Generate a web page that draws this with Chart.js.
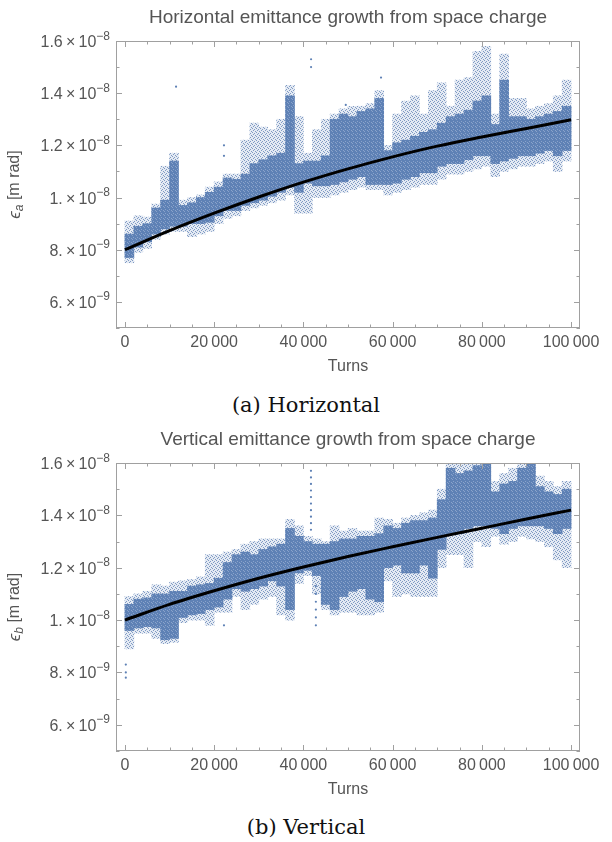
<!DOCTYPE html>
<html>
<head>
<meta charset="utf-8">
<script src="https://cdn.jsdelivr.net/npm/chart.js@4.4.1/dist/chart.umd.min.js"></script>
<style>
	body { margin: 0; background: #fff; width: 612px; height: 842px; position: relative; overflow: hidden; }
	.box { position: absolute; left: 0; width: 612px; height: 385px; }
	.caption { position: absolute; left: 0; width: 612px; text-align: center; line-height: 26px;
		font-family: "DejaVu Serif", "Liberation Serif", serif; font-size: 21px; color: #111; }
</style>
</head>
<body>
<div class="box" style="top:0"><canvas id="horiz"></canvas></div>
<div class="caption" style="top:392px">(a) Horizontal</div>
<div class="box" style="top:420px"><canvas id="vert"></canvas></div>
<div class="caption" style="top:814px">(b) Vertical</div>
<script>
// emittance values are in units of 1e-9 m rad, binned every 2000 turns
var binTurns = [1000,3000,5000,7000,9000,11000,13000,15000,17000,19000,21000,23000,25000,27000,29000,31000,33000,35000,37000,39000,41000,43000,45000,47000,49000,51000,53000,55000,57000,59000,61000,63000,65000,67000,69000,71000,73000,75000,77000,79000,81000,83000,85000,87000,89000,91000,93000,95000,97000,99000];

var hCoreLo = [7.7,8.1,8.3,8.6,8.8,8.9,8.9,9.0,9.0,9.05,9.3,9.5,9.5,9.7,9.8,9.9,10.05,10.2,10.4,10.2,10.55,10.45,10.45,10.5,10.6,10.7,10.8,10.5,10.5,10.5,10.55,10.7,10.8,10.95,10.95,11.2,11.3,11.3,11.45,11.6,11.6,11.3,11.4,11.5,11.6,11.6,11.7,11.8,11.6,11.8];
var hCoreHi = [8.6,8.9,9.0,9.6,9.9,11.4,9.7,9.8,10.0,10.2,10.4,10.75,10.7,10.9,11.3,11.45,11.6,11.7,13.9,11.3,11.4,11.4,11.6,13.0,13.2,13.1,13.3,13.4,13.8,11.8,12.1,12.2,12.35,12.5,12.6,12.85,13.1,13.2,13.35,13.7,13.9,12.8,14.5,13.1,13.1,13.0,13.1,13.2,13.3,13.5];
var hOuterLo = [7.5,7.9,8.05,8.4,8.6,8.7,8.7,8.5,8.6,8.7,9.0,9.2,9.3,9.5,9.6,9.7,9.8,9.9,10.1,9.4,9.4,10.0,10.0,10.1,10.2,10.3,10.4,10.3,10.3,10.1,10.2,10.3,10.4,10.5,10.5,10.7,10.9,10.9,11.0,11.1,11.2,10.8,11.0,11.1,11.2,11.2,11.3,11.4,11.0,11.4];
var hOuterHi = [9.1,9.3,9.25,9.75,11.2,11.7,9.9,10.0,10.1,10.4,10.6,10.9,10.9,12.2,12.85,12.7,12.6,13.0,14.3,13.1,11.7,12.6,13.0,13.2,13.4,13.5,13.5,13.6,14.1,12.0,13.2,13.7,13.9,13.2,14.1,14.4,13.5,14.5,14.6,15.6,15.8,13.2,15.5,13.8,13.8,13.4,13.5,13.6,13.9,14.5];
var hOutX = [11460,22200,22200,41720,41720,49500,57400];
var hOutY = [14.25,12.0,11.6,15.3,15.0,13.55,14.6];

var vCoreLo = [9.6,9.7,9.75,9.7,9.25,9.3,10.1,10.2,10.25,10.4,10.5,10.8,11.2,11.1,11.2,11.3,11.5,11.3,10.4,11.8,11.9,11.7,10.6,10.4,10.9,11.1,11.2,10.8,10.7,12.0,12.1,11.8,11.8,12.1,11.6,12.7,13.3,13.3,13.5,13.6,13.6,13.5,13.3,13.5,13.6,13.6,13.6,13.5,13.3,13.5];
var vCoreHi = [10.6,10.8,10.85,11.0,11.0,11.1,11.1,11.3,11.35,11.4,11.6,12.2,12.5,12.6,12.5,12.7,12.8,12.9,13.5,13.2,13.0,12.9,12.9,13.0,13.1,13.1,13.2,13.2,13.3,13.6,13.5,13.7,13.8,13.8,13.9,14.6,15.8,15.6,15.7,15.9,16.0,14.9,15.2,15.3,15.8,16.0,15.1,14.9,14.8,15.0];
var vOuterLo = [8.9,9.5,9.5,9.3,9.1,9.15,9.9,10.0,10.0,9.8,10.3,10.3,10.9,10.4,10.6,10.8,10.9,10.2,10.0,11.4,11.7,11.0,10.4,10.2,10.3,10.3,10.2,10.2,10.3,11.5,10.9,11.0,10.9,10.9,10.9,12.0,12.5,12.5,12.0,13.0,12.8,13.2,12.9,13.0,13.2,13.1,13.0,12.8,12.3,12.0];
var vOuterHi = [10.9,11.0,11.1,11.35,11.3,11.45,11.5,11.55,11.65,12.5,12.5,12.6,12.7,12.9,13.0,13.1,13.1,13.1,13.85,13.6,13.2,13.1,13.0,13.6,13.4,13.5,13.4,13.4,13.9,13.85,13.7,13.9,14.0,14.1,14.2,15.0,16.0,16.0,16.0,16.0,16.0,15.3,15.6,15.8,16.0,16.0,15.5,15.3,15.1,15.3];
var vOutX = [200,200,200,22200,41700,41700,41700,41700,41700,41700,41700,41700,41700,41700,42800,42800,42800,42800,42800,42800];
var vOutY = [8.3,8.0,7.8,9.8,15.7,15.45,15.2,14.95,14.7,14.45,14.2,13.95,13.7,13.45,11.3,11.0,10.7,10.4,10.1,9.8];

// fitted growth curves
var fitTurns = [0,10000,20000,30000,40000,50000,60000,70000,80000,90000,100000];
var hFit = [8.0,8.73,9.40,10.02,10.59,11.10,11.56,11.97,12.32,12.65,12.98];
var vFit = [10.0,10.6,11.12,11.60,12.03,12.43,12.80,13.16,13.51,13.86,14.2];

// axis ticks
var xTicksAll = [0,5000,10000,15000,20000,25000,30000,35000,40000,45000,50000,55000,60000,65000,70000,75000,80000,85000,90000,95000,100000];
var xMajor = [0,20000,40000,60000,80000,100000];
var xLabels = ['0','20\u2009000','40\u2009000','60\u2009000','80\u2009000','100\u2009000'];
var yTicksAll = [5,6,7,8,9,10,11,12,13,14,15,16];
var yMajor = [6,8,10,12,14,16];
var yMant = ['6.','8.','1.','1.2','1.4','1.6'];
var yExp = ['\u22129','\u22129','\u22128','\u22128','\u22128','\u22128'];

var FONT = '"Liberation Sans", Arial, sans-serif';
var BLUE = '#5e81b5';
var FRAME = '#a0a0a0';
var TEXT = '#555555';

// speckle fills so the bands read like dense point clouds
function speckle(bg, fg, cells) {
	var c = document.createElement('canvas');
	c.width = 4; c.height = 4;
	var g = c.getContext('2d');
	g.fillStyle = bg;
	g.fillRect(0, 0, 4, 4);
	g.fillStyle = fg;
	cells.forEach(function(p) { g.fillRect(p[0], p[1], 1, 1); });
	return g.createPattern(c, 'repeat');
}
var coreFill = speckle(BLUE, '#8aa3cb', [[1, 1], [3, 2], [0, 3]]);
var outerFill = speckle('#e4eaf3', '#7f9ac4', [[0, 0], [2, 1], [1, 2], [3, 3]]);

var decoPlugin = {
	id: 'deco',
	afterDatasetsDraw: function(chart, args, opts) {
		var ctx = chart.ctx, a = chart.chartArea;
		var xs = chart.scales.x, ys = chart.scales.y;
		var midX = (a.left + a.right) / 2, midY = (a.top + a.bottom) / 2;
		ctx.save();
		ctx.strokeStyle = FRAME;
		ctx.lineWidth = 1;
		ctx.strokeRect(a.left + 0.5, a.top + 0.5, a.right - a.left - 1, a.bottom - a.top - 1);

		ctx.beginPath();
		xTicksAll.forEach(function(v) {
			var px = Math.round(xs.getPixelForValue(v)) + 0.5;
			var len = xMajor.indexOf(v) >= 0 ? 6 : 3.5;
			ctx.moveTo(px, a.bottom); ctx.lineTo(px, a.bottom - len);
			ctx.moveTo(px, a.top); ctx.lineTo(px, a.top + len);
		});
		yTicksAll.forEach(function(v) {
			var py = Math.round(ys.getPixelForValue(v)) + 0.5;
			var len = yMajor.indexOf(v) >= 0 ? 6 : 3.5;
			ctx.moveTo(a.left, py); ctx.lineTo(a.left + len, py);
			ctx.moveTo(a.right, py); ctx.lineTo(a.right - len, py);
		});
		ctx.stroke();

		ctx.fillStyle = TEXT;
		// x tick labels
		ctx.font = '16px ' + FONT;
		ctx.textAlign = 'center';
		ctx.textBaseline = 'middle';
		xMajor.forEach(function(v, i) {
			ctx.fillText(xLabels[i], xs.getPixelForValue(v), a.bottom + 14.5);
		});
		ctx.fillText('Turns', midX, a.bottom + 39);

		// y tick labels, mantissa x 10 with raised exponent
		ctx.textAlign = 'left';
		ctx.textBaseline = 'alphabetic';
		yMajor.forEach(function(v, i) {
			var ty = ys.getPixelForValue(v);
			var base = yMant[i] + '\u2009\u00d7\u200910';
			ctx.font = '12px ' + FONT;
			var we = ctx.measureText(yExp[i]).width;
			ctx.font = '16px ' + FONT;
			var wb = ctx.measureText(base).width;
			var x0 = a.left - 6 - we - wb;
			ctx.fillText(base, x0, ty + 6);
			ctx.font = '12px ' + FONT;
			ctx.fillText(yExp[i], x0 + wb, ty - 1.5);
		});

		// title
		ctx.font = '19px ' + FONT;
		ctx.textAlign = 'center';
		ctx.textBaseline = 'middle';
		ctx.fillText(opts.title, midX, a.top - 23);

		// rotated y axis label
		ctx.translate(15, midY);
		ctx.rotate(-Math.PI / 2);
		ctx.textAlign = 'left';
		var parts = [
			{ t: '\u03f5', f: 'italic 17px ' + FONT, dy: 0 },
			{ t: opts.sub, f: 'italic 12px ' + FONT, dy: 5 },
			{ t: ' [m rad]', f: '16px ' + FONT, dy: 0 }
		];
		var total = 0;
		parts.forEach(function(p) { ctx.font = p.f; p.w = ctx.measureText(p.t).width; total += p.w; });
		var x = -total / 2;
		parts.forEach(function(p) { ctx.font = p.f; ctx.fillText(p.t, x, p.dy); x += p.w; });
		ctx.restore();
	}
};

function makeChart(id, title, sub, coreLo, coreHi, outerLo, outerHi, fit, outX, outY, pad) {
	var core = [], outer = [], line = [], dots = [];
	for (var i in binTurns) {
		core.push({ x: binTurns[i], y: [coreLo[i], coreHi[i]] });
		outer.push({ x: binTurns[i], y: [outerLo[i], outerHi[i]] });
	}
	for (var j in fitTurns) line.push({ x: fitTurns[j], y: fit[j] });
	for (var k in outX) dots.push({ x: outX[k], y: outY[k] });

	return new Chart(document.getElementById(id), {
		type: 'bar',
		data: {
			datasets: [
				{ type: 'line', data: line, borderColor: '#000', borderWidth: 3, pointRadius: 0,
					cubicInterpolationMode: 'monotone', fill: false, order: 0 },
				{ type: 'scatter', data: dots, backgroundColor: BLUE, borderWidth: 0, pointRadius: 1.1, order: 1 },
				{ data: core, backgroundColor: coreFill, borderWidth: 0, grouped: false,
					barPercentage: 1, categoryPercentage: 1, order: 2 },
				{ data: outer, backgroundColor: outerFill, borderWidth: 0, grouped: false,
					barPercentage: 1, categoryPercentage: 1, order: 3 }
			]
		},
		options: {
			responsive: true,
			maintainAspectRatio: false,
			animation: false,
			devicePixelRatio: 1,
			layout: { padding: pad },
			scales: {
				x: { type: 'linear', min: -2000, max: 102000, offset: false, display: false },
				y: { type: 'linear', min: 5, max: 16, display: false }
			},
			plugins: {
				legend: { display: false },
				tooltip: { enabled: false },
				deco: { title: title, sub: sub }
			}
		},
		plugins: [decoPlugin]
	});
}

makeChart('horiz', 'Horizontal emittance growth from space charge', 'a',
	hCoreLo, hCoreHi, hOuterLo, hOuterHi, hFit, hOutX, hOutY,
	{ left: 116, right: 32, top: 41, bottom: 57 });
makeChart('vert', 'Vertical emittance growth from space charge', 'b',
	vCoreLo, vCoreHi, vOuterLo, vOuterHi, vFit, vOutX, vOutY,
	{ left: 116, right: 32, top: 43, bottom: 54 });
</script>
</body>
</html>
